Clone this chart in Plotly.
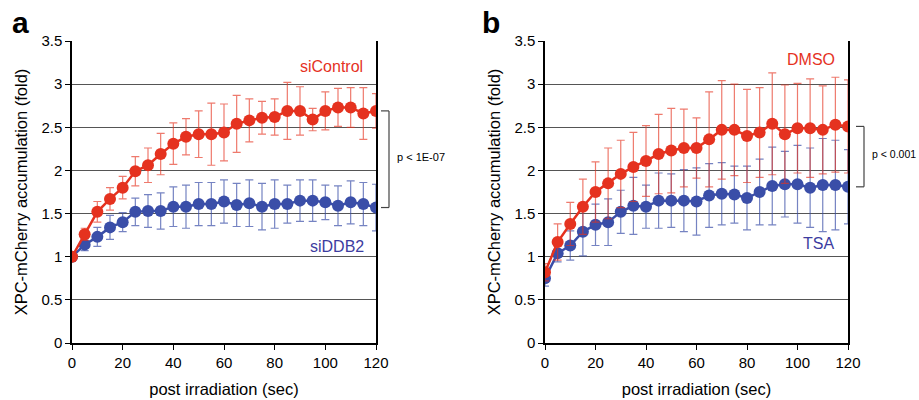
import plotly.graph_objects as go

# time points (sec)
time_sec = [0, 5, 10, 15, 20, 25, 30, 35, 40, 45, 50, 55, 60,
            65, 70, 75, 80, 85, 90, 95, 100, 105, 110, 115, 120]

# panel a
si_control = [1.00, 1.26, 1.52, 1.67, 1.80, 1.99, 2.06, 2.19, 2.31, 2.39, 2.42, 2.42, 2.44,
              2.54, 2.58, 2.61, 2.62, 2.69, 2.69, 2.59, 2.69, 2.73, 2.73, 2.66, 2.69]
si_control_err = [0.05, 0.07, 0.12, 0.13, 0.13, 0.17, 0.20, 0.24, 0.24, 0.21, 0.27, 0.36, 0.33,
                  0.33, 0.25, 0.19, 0.21, 0.33, 0.28, 0.13, 0.22, 0.22, 0.23, 0.30, 0.20]
si_ddb2 = [1.00, 1.14, 1.23, 1.34, 1.40, 1.52, 1.53, 1.53, 1.58, 1.58, 1.61, 1.61, 1.64,
           1.60, 1.62, 1.58, 1.61, 1.61, 1.65, 1.65, 1.63, 1.59, 1.63, 1.61, 1.57]
si_ddb2_err = [0.05, 0.07, 0.11, 0.14, 0.11, 0.16, 0.19, 0.21, 0.23, 0.25, 0.25, 0.25, 0.25,
               0.25, 0.27, 0.27, 0.28, 0.22, 0.24, 0.24, 0.20, 0.23, 0.25, 0.25, 0.27]

# panel b
dmso = [0.82, 1.17, 1.38, 1.58, 1.75, 1.85, 1.96, 2.04, 2.11, 2.19, 2.23, 2.26, 2.26,
        2.36, 2.47, 2.47, 2.40, 2.44, 2.54, 2.42, 2.49, 2.49, 2.47, 2.53, 2.51]
dmso_err = [0.10, 0.21, 0.25, 0.32, 0.35, 0.41, 0.39, 0.40, 0.41, 0.46, 0.49, 0.45, 0.35,
            0.55, 0.57, 0.53, 0.54, 0.52, 0.59, 0.57, 0.52, 0.57, 0.51, 0.55, 0.54]
tsa = [0.75, 1.04, 1.13, 1.29, 1.37, 1.40, 1.52, 1.59, 1.58, 1.65, 1.65, 1.65, 1.64,
       1.71, 1.73, 1.72, 1.68, 1.75, 1.82, 1.84, 1.84, 1.80, 1.83, 1.83, 1.81]
tsa_err = [0.09, 0.10, 0.17, 0.28, 0.24, 0.27, 0.25, 0.33, 0.25, 0.32, 0.31, 0.36, 0.39,
           0.37, 0.36, 0.33, 0.37, 0.38, 0.45, 0.38, 0.45, 0.46, 0.54, 0.52, 0.43]

RED = '#e5321f'
BLUE = '#3a4ea8'
RED_ERR = 'rgba(229,50,31,0.65)'
BLUE_ERR = 'rgba(58,78,168,0.7)'
W, H = 919, 400
PLOT_TOP, PLOT_BOT = 41, 343  # pixels of the plot area


def px(x):
    # pixel -> paper fraction (x)
    return x / W


def py(y):
    # pixel -> paper fraction (y)
    return (PLOT_BOT - y) / (PLOT_BOT - PLOT_TOP)


fig = go.Figure()


def add_series(y, err, color, err_color, xa, ya):
    fig.add_trace(go.Scatter(
        x=time_sec, y=y, xaxis=xa, yaxis=ya, mode='lines+markers',
        line=dict(color=color, width=2.5),
        marker=dict(color=color, size=12),
        error_y=dict(type='data', array=err, color=err_color, thickness=1.2, width=4),
        showlegend=False,
    ))


# blue first so red sits on top (as in the figure)
add_series(si_ddb2, si_ddb2_err, BLUE, BLUE_ERR, 'x', 'y')
add_series(si_control, si_control_err, RED, RED_ERR, 'x', 'y')
add_series(tsa, tsa_err, BLUE, BLUE_ERR, 'x2', 'y2')
add_series(dmso, dmso_err, RED, RED_ERR, 'x2', 'y2')

xaxis_style = dict(
    range=[0, 120], tickvals=[0, 20, 40, 60, 80, 100, 120],
    showline=True, linecolor='black', linewidth=1.5,
    ticks='outside', ticklen=5, tickcolor='black',
    showgrid=False, zeroline=False, automargin=False,
    tickfont=dict(size=15, color='black'),
    title=dict(text='post irradiation (sec)', font=dict(size=16.5, color='black'), standoff=14),
)
yaxis_style = dict(
    range=[0, 3.5], dtick=0.5, tickformat='~g',
    showline=True, linecolor='black', linewidth=1.5, mirror=True,
    ticks='outside', ticklen=5, tickcolor='black',
    showgrid=True, gridcolor='#555555', gridwidth=1, zeroline=False, automargin=False,
    tickfont=dict(size=15, color='black'),
    title=dict(text='XPC-mCherry accumulation (fold)', font=dict(size=16.5, color='black'), standoff=10),
)

fig.update_layout(
    width=W, height=H,
    margin=dict(l=0, r=0, t=PLOT_TOP, b=H - PLOT_BOT),
    paper_bgcolor='white', plot_bgcolor='white',
    font=dict(family='Liberation Sans, Arial, sans-serif', color='black'),
    xaxis=dict(xaxis_style, domain=[px(72), px(376)], anchor='y'),
    yaxis=dict(yaxis_style, anchor='x'),
    xaxis2=dict(xaxis_style, domain=[px(545), px(848)], anchor='y2'),
    yaxis2=dict(yaxis_style, anchor='x2'),
)

# panel letters
for letter, lx in [('a', 20), ('b', 491)]:
    fig.add_annotation(text='<b>%s</b>' % letter, xref='paper', yref='paper',
                       x=px(lx), y=py(22), xanchor='center', yanchor='middle',
                       showarrow=False, font=dict(size=30, color='black'))

# series labels
fig.add_annotation(text='siControl', x=102.5, y=3.2, xref='x', yref='y', showarrow=False,
                   font=dict(size=16, color=RED))
fig.add_annotation(text='siDDB2', x=104.5, y=1.12, xref='x', yref='y', showarrow=False,
                   font=dict(size=16, color='#3c3ca0'))
fig.add_annotation(text='DMSO', x=105.5, y=3.28, xref='x2', yref='y2', showarrow=False,
                   font=dict(size=16, color=RED))
fig.add_annotation(text='TSA', x=108.5, y=1.15, xref='x2', yref='y2', showarrow=False,
                   font=dict(size=16, color='#3c3ca0'))


# significance brackets
def bracket(x0, x1, ytop, ybot, yref, label, size):
    kw = dict(type='line', xref='paper', yref=yref, line=dict(color='#444444', width=1.2))
    fig.add_shape(x0=px(x0), x1=px(x1), y0=ytop, y1=ytop, **kw)
    fig.add_shape(x0=px(x0), x1=px(x1), y0=ybot, y1=ybot, **kw)
    fig.add_shape(x0=px(x1), x1=px(x1), y0=ytop, y1=ybot, **kw)
    fig.add_annotation(text=label, xref='paper', yref=yref, x=px(x1 + 6),
                       y=(ytop + ybot) / 2 + 0.03, xanchor='left', showarrow=False,
                       font=dict(size=size, color='black'))


bracket(381, 389, si_control[-1], si_ddb2[-1], 'y', 'p < 1E-07', 11)
bracket(856, 864, dmso[-1], tsa[-1], 'y2', 'p < 0.001', 10.5)

# drop the default page margin so the figure fills the window exactly
fig.write_html("out.html", config={'displayModeBar': False},
               post_script="document.body.style.margin='0px';")
